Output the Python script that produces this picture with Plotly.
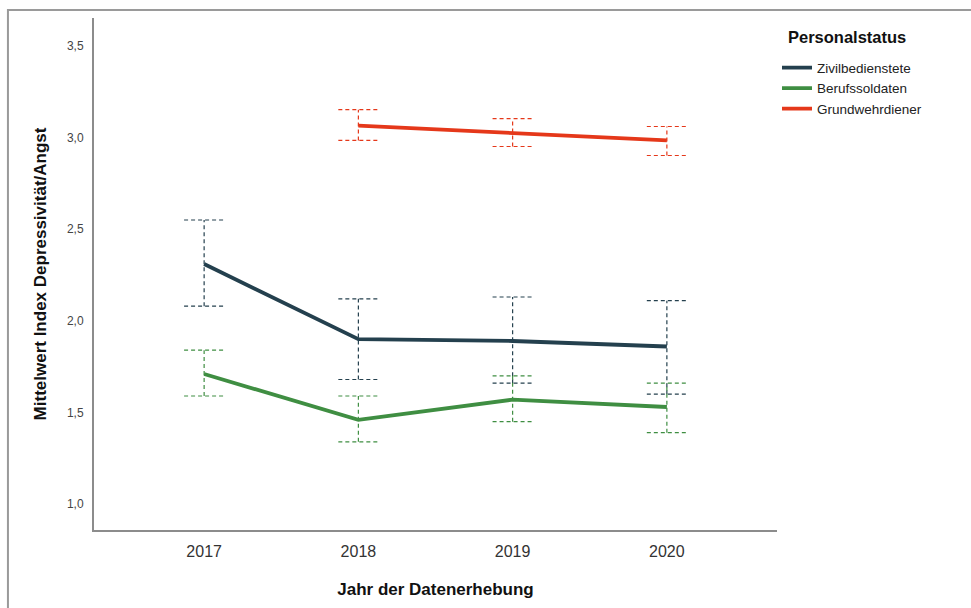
import plotly.graph_objects as go

# Survey years and group means with 95% confidence limits
years = ["2017", "2018", "2019", "2020"]

zivil_mean = [2.31, 1.90, 1.89, 1.86]
zivil_low = [2.08, 1.68, 1.66, 1.60]
zivil_high = [2.55, 2.12, 2.13, 2.11]

beruf_mean = [1.71, 1.46, 1.57, 1.53]
beruf_low = [1.59, 1.34, 1.45, 1.39]
beruf_high = [1.84, 1.59, 1.70, 1.66]

# Grundwehrdiener: no data for 2017
grund_mean = [None, 3.065, 3.027, 2.984]
grund_low = [None, 2.984, 2.951, 2.902]
grund_high = [None, 3.152, 3.103, 3.060]

series = [
    ("Zivilbedienstete", "#24404e", zivil_mean, zivil_low, zivil_high),
    ("Berufssoldaten", "#3f8e42", beruf_mean, beruf_low, beruf_high),
    ("Grundwehrdiener", "#e5381a", grund_mean, grund_low, grund_high),
]

CAP = 0.13  # half-width of error bar caps in category units

fig = go.Figure()

for name, color, mean, low, high in series:
    xs, ys = [], []
    for i, (lo, hi) in enumerate(zip(low, high)):
        if lo is None:
            continue
        # vertical whisker, lower cap, upper cap
        xs += [i, i, None, i - CAP, i + CAP, None, i - CAP, i + CAP, None]
        ys += [lo, hi, None, lo, lo, None, hi, hi, None]
    fig.add_trace(go.Scatter(
        x=xs, y=ys, mode="lines", showlegend=False, hoverinfo="skip",
        line=dict(color=color, width=1.2, dash="4px,3px"),
    ))

for name, color, mean, low, high in series:
    xi = [i for i, m in enumerate(mean) if m is not None]
    yi = [m for m in mean if m is not None]
    fig.add_trace(go.Scatter(
        x=xi, y=yi, mode="lines", name=name,
        line=dict(color=color, width=3.8),
    ))

# outer frame (top and left edges)
fig.add_shape(type="path", xref="paper", yref="paper",
              path="M -0.126,-0.2 L -0.126,1.0156 L 1.5,1.0156",
              line=dict(color="#9a9a9a", width=2))

# legend heading
fig.add_annotation(text="<b>Personalstatus</b>", xref="paper", yref="paper",
                   x=1.013, xanchor="left", y=0.963, yanchor="middle",
                   showarrow=False, font=dict(size=16.5, color="#111"))

fig.update_layout(
    width=971, height=608,
    margin=dict(l=94, r=194, t=18, b=78),
    paper_bgcolor="white", plot_bgcolor="white",
    separators=",.",
    font=dict(family="Liberation Sans, Arial", color="#222"),
    showlegend=True,
    legend=dict(
        x=1.0, xanchor="left", y=0.933, yanchor="top",
        font=dict(size=13.5, color="#222"),
        tracegroupgap=0, itemwidth=30,
        bgcolor="rgba(0,0,0,0)",
    ),
    xaxis=dict(
        range=[-0.714, 3.714],
        tickvals=list(range(len(years))), ticktext=years,
        showgrid=False, zeroline=False,
        showline=True, linecolor="#8c8c8c", linewidth=2,
        ticks="", tickfont=dict(size=16, color="#333"),
        ticklabelstandoff=6,
        title=dict(text="<b>Jahr der Datenerhebung</b>",
                   font=dict(size=17, color="#111"), standoff=24),
    ),
    yaxis=dict(
        range=[0.859, 3.652],
        tickvals=[1.0, 1.5, 2.0, 2.5, 3.0, 3.5], tickformat=".1f",
        showgrid=False, zeroline=False,
        showline=True, linecolor="#8c8c8c", linewidth=2,
        ticks="", tickfont=dict(size=12, color="#444"),
        ticklabelstandoff=6,
        title=dict(text="<b>Mittelwert Index Depressivität/Angst</b>",
                   font=dict(size=17, color="#111"), standoff=16),
    ),
)

fig.write_html("out.html")
